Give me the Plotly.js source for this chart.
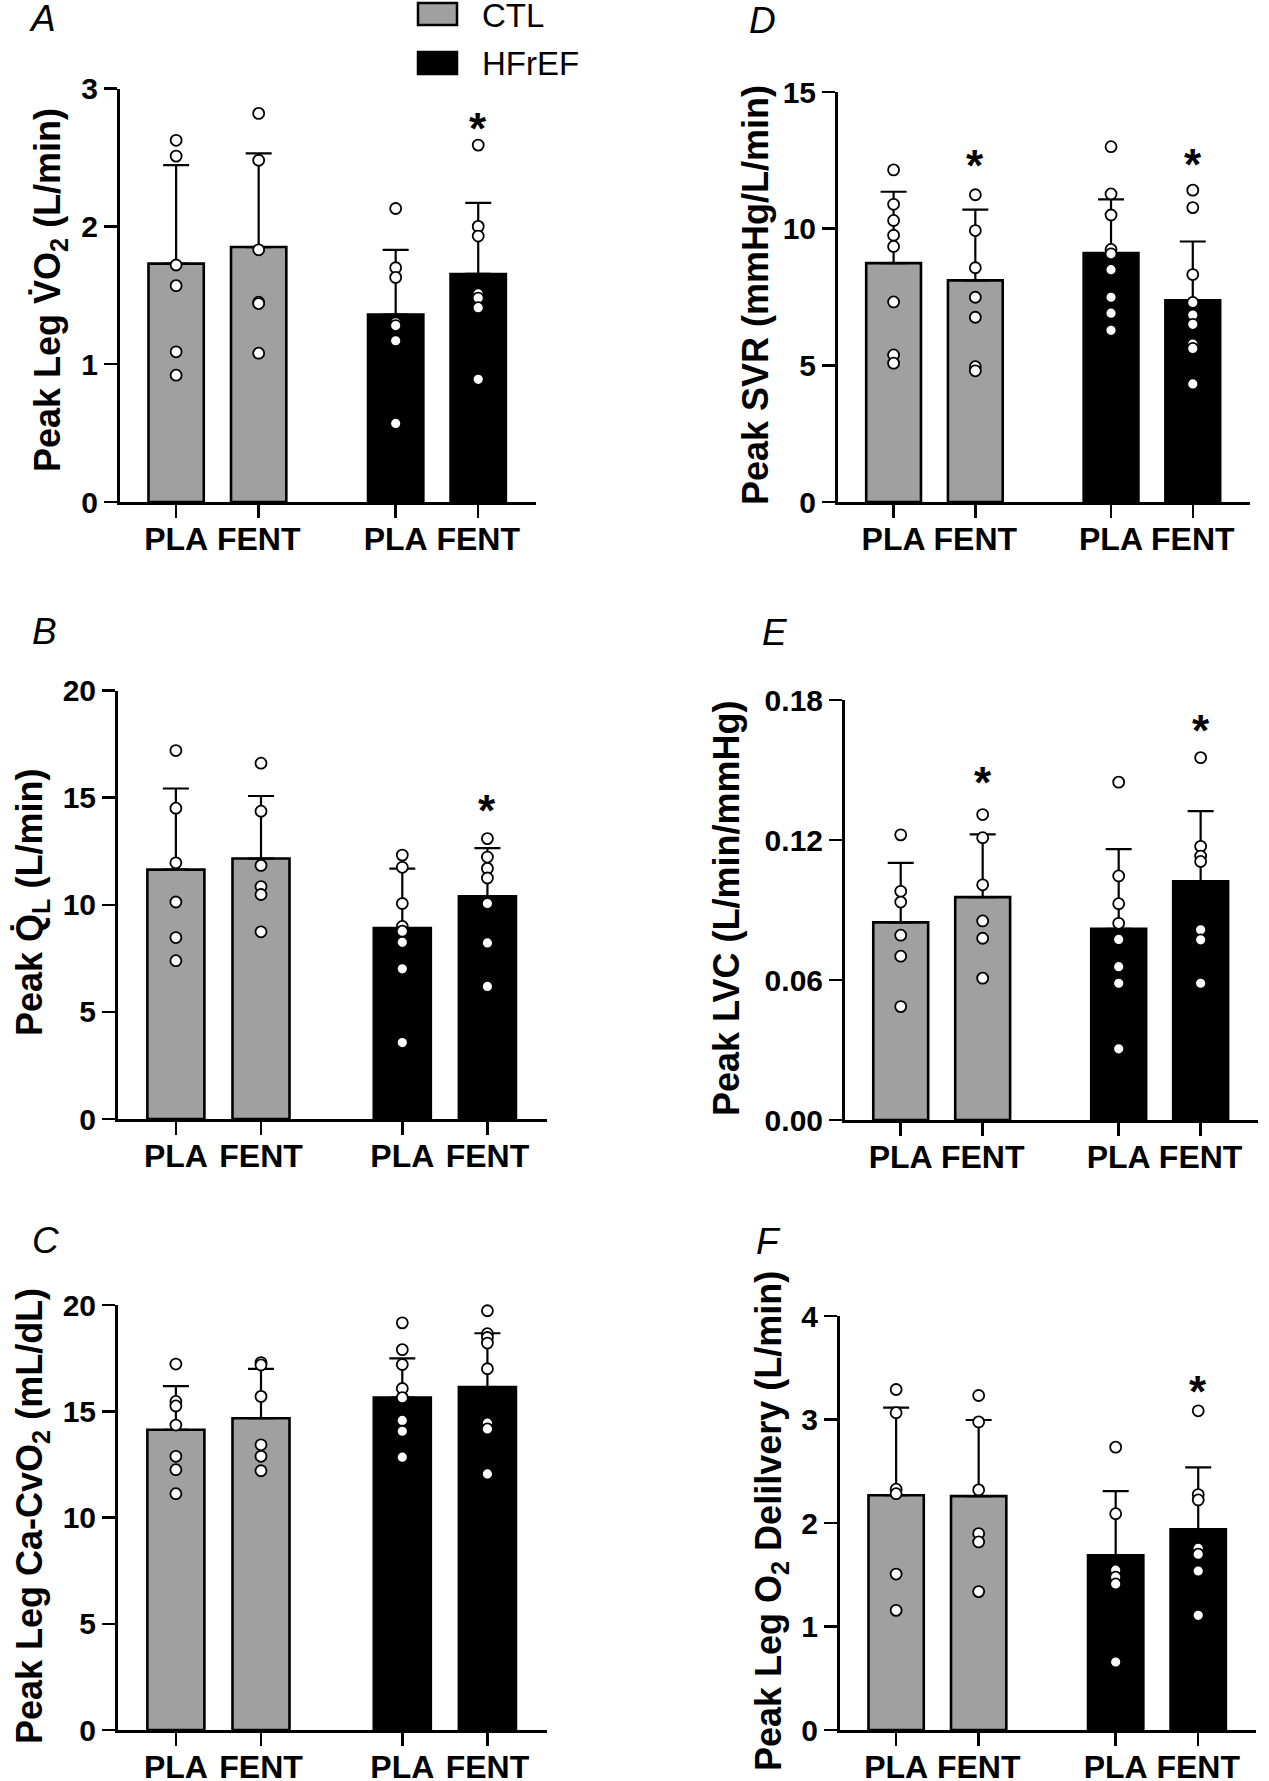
<!DOCTYPE html>
<html><head><meta charset="utf-8">
<script src="https://cdn.plot.ly/plotly-3.0.1.min.js"></script>
<style>html,body{margin:0;padding:0;background:#fff}#chart{width:1269px;height:1781px}</style>
</head><body><div id="chart"></div>
<script>
// ---------- data ----------
const groupNames = ['CTL', 'HFrEF'];
const tickLabels = ['PLA', 'FENT', 'PLA', 'FENT'];

const meanA = [1.73, 1.85, 1.36, 1.655];
const sdA = [0.715, 0.68, 0.47, 0.515];
const pointsA = [
  [2.625, 2.51, 1.72, 1.57, 1.09, 0.92],
  [2.82, 2.48, 1.83, 1.45, 1.44, 1.08],
  [2.13, 1.70, 1.63, 1.30, 1.28, 1.17, 0.57],
  [2.59, 2.00, 1.93, 1.51, 1.48, 1.41, 0.89]
];
const starA = [null, null, null, 2.786];

const meanB = [11.64, 12.16, 8.91, 10.40];
const sdB = [3.79, 2.92, 2.78, 2.25];
const pointsB = [
  [17.2, 14.51, 11.96, 10.13, 8.47, 7.39],
  [16.61, 14.37, 11.84, 10.85, 10.48, 8.74],
  [12.32, 11.75, 10.06, 8.99, 8.77, 8.25, 7.01, 3.57],
  [13.09, 12.23, 11.70, 11.25, 10.06, 8.22, 6.19]
];
const starB = [null, null, null, 14.85];

const meanC = [14.13, 14.67, 15.64, 16.14];
const sdC = [2.05, 2.32, 1.85, 2.53];
const pointsC = [
  [17.22, 15.46, 15.25, 14.35, 12.88, 12.25, 11.12],
  [17.29, 17.18, 15.70, 13.42, 12.88, 12.20],
  [19.16, 17.90, 17.20, 16.07, 15.64, 14.57, 14.06, 12.84],
  [19.73, 18.65, 18.47, 18.21, 17.0, 14.44, 14.17, 12.05]
];
const starC = [null, null, null, null];

const meanD = [8.74, 8.11, 9.11, 7.38];
const sdD = [2.61, 2.59, 1.96, 2.15];
const pointsD = [
  [12.15, 10.89, 10.30, 9.76, 9.35, 7.32, 5.38, 5.08],
  [11.24, 9.93, 8.57, 7.49, 6.76, 4.95, 4.80],
  [13.0, 11.27, 10.5, 9.24, 9.08, 8.50, 7.49, 6.91, 6.28],
  [11.41, 10.77, 8.32, 7.30, 6.84, 6.50, 5.78, 5.62, 4.32]
];
const starD = [null, 12.68, null, 12.70];

const meanE = [0.0847, 0.0955, 0.0819, 0.1023];
const sdE = [0.0255, 0.0269, 0.0342, 0.0301];
const pointsE = [
  [0.1222, 0.098, 0.0934, 0.0792, 0.0702, 0.0486],
  [0.1309, 0.121, 0.1008, 0.0853, 0.0779, 0.0608],
  [0.1448, 0.1046, 0.0927, 0.0843, 0.0774, 0.0657, 0.0586, 0.0305],
  [0.1553, 0.1173, 0.1131, 0.1108, 0.0815, 0.0772, 0.0586]
];
const starE = [null, 0.149, null, 0.1713];

const meanF = [2.268, 2.26, 1.688, 1.939];
const sdF = [0.846, 0.735, 0.62, 0.598];
const pointsF = [
  [3.29, 3.066, 2.327, 2.283, 1.507, 1.156],
  [3.232, 2.977, 2.32, 1.898, 1.817, 1.337],
  [2.733, 2.09, 1.544, 1.477, 1.411, 0.657],
  [3.084, 2.275, 2.223, 1.754, 1.699, 1.536, 1.108]
];
const starF = [null, null, null, 3.372];

// ---------- layout constants ----------
const W = 1269, H = 1781;
const POS = [0, 1, 2.66, 3.66];
const XRANGE = [-0.68, 4.36];
const FONT = 'Liberation Sans, Arial, Helvetica, sans-serif';
const GRAY = '#a0a0a0';

const panels = [
  {letter:'A', mean:meanA, sd:sdA, pts:pointsA, star:starA, ticks:[0,1,2,3], fmt:'d',
   title:'Peak Leg V\u0307O<sub>2</sub> (L/min)', px:[120,536], py:[88.6,502], tx:50, ty:290, lx:42, ly:19},
  {letter:'B', mean:meanB, sd:sdB, pts:pointsB, star:starB, ticks:[0,5,10,15,20], fmt:'d',
   title:'Peak Q\u0307<sub>L</sub> (L/min)', px:[118,547], py:[690.6,1119], tx:32, ty:903, lx:44, ly:631},
  {letter:'C', mean:meanC, sd:sdC, pts:pointsC, star:starC, ticks:[0,5,10,15,20], fmt:'d',
   title:'Peak Leg Ca-CvO<sub>2</sub> (mL/dL)', px:[118,547], py:[1305,1730], tx:32, ty:1516, lx:46, ly:1240},
  {letter:'D', mean:meanD, sd:sdD, pts:pointsD, star:starD, ticks:[0,5,10,15], fmt:'d',
   title:'Peak SVR (mmHg/L/min)', px:[838,1250], py:[92,502], tx:755, ty:295, lx:762, ly:20},
  {letter:'E', mean:meanE, sd:sdE, pts:pointsE, star:starE, ticks:[0,0.06,0.12,0.18], fmt:'.2f',
   title:'Peak LVC (L/min/mmHg)', px:[845,1258], py:[700,1120], tx:727, ty:909, lx:775, ly:632},
  {letter:'F', mean:meanF, sd:sdF, pts:pointsF, star:starF, ticks:[0,1,2,3,4], fmt:'d',
   title:'Peak Leg O<sub>2</sub> Delilvery (L/min)', px:[840,1256], py:[1316,1730], tx:771, ty:1521, lx:768, ly:1241}
];

const traces = [];
const layout = {
  width: W, height: H,
  margin: {l:0, r:0, t:0, b:0},
  paper_bgcolor: '#fff', plot_bgcolor: 'rgba(0,0,0,0)',
  showlegend: false, barmode: 'overlay',
  font: {family: FONT, color: '#000'},
  annotations: [], shapes: []
};

panels.forEach((p, i) => {
  const n = i + 1;
  const xa = 'x' + (n > 1 ? n : ''), ya = 'y' + (n > 1 ? n : '');
  const xk = 'xaxis' + (n > 1 ? n : ''), yk = 'yaxis' + (n > 1 ? n : '');
  [0, 1].forEach(g => {
    const idx = [2 * g, 2 * g + 1];
    traces.push({
      type: 'bar', xaxis: xa, yaxis: ya, name: groupNames[g],
      x: idx.map(k => POS[k]), y: idx.map(k => p.mean[k]),
      width: 0.67,
      marker: {color: g === 0 ? GRAY : '#000', line: {color: '#000', width: 2.6}},
      error_y: {type: 'data', symmetric: false, array: idx.map(k => p.sd[k]), arrayminus: [0, 0],
                color: '#000', thickness: 2.2, width: 13},
      hoverinfo: 'skip'
    });
  });
  const px = [], py = [];
  p.pts.forEach((arr, k) => arr.forEach(v => { px.push(POS[k]); py.push(v); }));
  traces.push({
    type: 'scatter', mode: 'markers', xaxis: xa, yaxis: ya, x: px, y: py,
    marker: {color: '#fff', size: 11, line: {color: '#000', width: 1.8}},
    hoverinfo: 'skip', cliponaxis: false
  });
  layout[xk] = {
    domain: [p.px[0] / W, p.px[1] / W], range: XRANGE, anchor: ya,
    tickmode: 'array', tickvals: POS, ticktext: tickLabels,
    ticks: 'outside', ticklen: 13, tickwidth: 2.5, tickcolor: '#000',
    ticklabelstandoff: -6,
    showline: true, linewidth: 3, linecolor: '#000',
    showgrid: false, zeroline: false, fixedrange: true,
    tickfont: {family: FONT, size: 32, weight: 'bold', color: '#000'}
  };
  layout[yk] = {
    domain: [1 - p.py[1] / H, 1 - p.py[0] / H], range: [0, p.ticks[p.ticks.length - 1]], anchor: xa,
    tickmode: 'array', tickvals: p.ticks,
    ticktext: p.ticks.map(v => p.fmt === 'd' ? String(v) : v.toFixed(2)),
    ticks: 'outside', ticklen: 13, tickwidth: 2.5, tickcolor: '#000',
    showline: true, linewidth: 3, linecolor: '#000',
    showgrid: false, zeroline: false, fixedrange: true,
    tickfont: {family: FONT, size: 30, weight: 'bold', color: '#000'}
  };
  p.star.forEach((v, k) => {
    if (v === null) return;
    layout.annotations.push({xref: xa, yref: ya, x: POS[k], y: v, text: '*', showarrow: false,
      xanchor: 'center', yanchor: 'middle', yshift: -10,
      font: {family: FONT, size: 44, weight: 'bold', color: '#000'}});
  });
  layout.annotations.push({xref: 'paper', yref: 'paper', x: p.tx / W, y: 1 - p.ty / H,
    text: p.title, textangle: -90, showarrow: false, xanchor: 'center', yanchor: 'middle',
    font: {family: FONT, size: 36, weight: 'bold', color: '#000'}});
  layout.annotations.push({xref: 'paper', yref: 'paper', x: p.lx / W, y: 1 - p.ly / H,
    text: p.letter, showarrow: false, xanchor: 'center', yanchor: 'middle',
    font: {family: FONT, size: 37, style: 'italic', color: '#000'}});
});

// legend (boxes + labels)
const legendBoxes = [[418, 457, 3, 25], [418, 457, 52, 74]];
legendBoxes.forEach((b, g) => {
  layout.shapes.push({type: 'rect', xref: 'paper', yref: 'paper',
    x0: b[0] / W, x1: b[1] / W, y0: 1 - b[3] / H, y1: 1 - b[2] / H,
    fillcolor: g === 0 ? GRAY : '#000', line: {color: '#000', width: 2.5}});
  layout.annotations.push({xref: 'paper', yref: 'paper', x: 480 / W, y: 1 - ((b[2] + b[3]) / 2 + 1) / H,
    text: groupNames[g], showarrow: false, xanchor: 'left', yanchor: 'middle',
    font: {family: FONT, size: 33, color: '#000'}});
});

Plotly.newPlot('chart', traces, layout, {staticPlot: true, displayModeBar: false});
</script>
</body></html>
